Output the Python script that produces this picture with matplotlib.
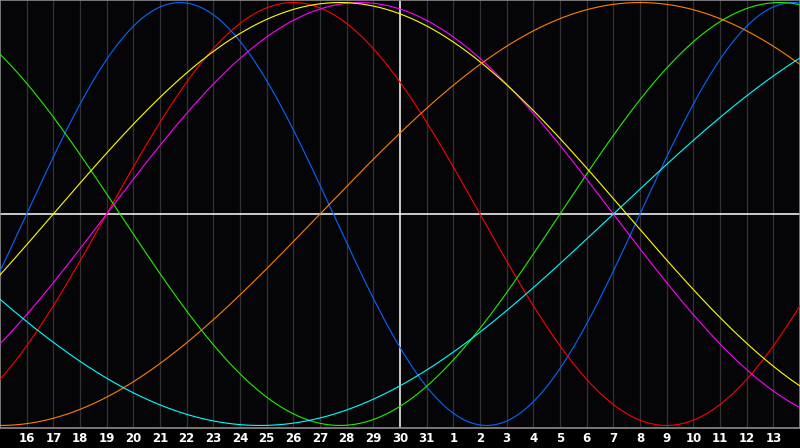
import numpy as np
import matplotlib
matplotlib.use("Agg")
import matplotlib.pyplot as plt

# Day labels under the grid lines (positions 1..29 days from left edge)
day_labels = ["16", "17", "18", "19", "20", "21", "22", "23", "24", "25", "26", "27", "28",
              "29", "30", "31", "1", "2", "3", "4", "5", "6", "7", "8", "9", "10", "11", "12", "13"]

# Biorhythm cycles: period (days) and days-since-birth modulo period at left edge
cycle_names = ["physical", "emotional", "intellectual", "intuitive", "aesthetic", "awareness", "spiritual"]
cycle_periods = [23, 28, 33, 38, 43, 48, 53]
cycle_phase0 = [22, 24, 12, 34, 41, 36, 30]
cycle_colors = ["#0a64ff", "#ff0000", "#22ee00", "#ff00ff", "#ffff00", "#ff8000", "#00ffff"]

span_days = 30
today_index = 15

fig = plt.figure(figsize=(8, 4.48), dpi=100, facecolor="#000000")
ax = fig.add_axes([0, 20 / 448, 1, 428 / 448])
ax.set_facecolor("#050508")

u = np.linspace(0, span_days, 1200)
for P, ph, c in zip(cycle_periods, cycle_phase0, cycle_colors):
    y = np.sin(2 * np.pi * (ph + u) / P)
    ax.plot(u, y, color=c, lw=0.8, antialiased=True, zorder=3)

for i in range(1, span_days):
    if i == today_index:
        continue
    ax.axvline(i, color="#333333", lw=0.9, zorder=1)
ax.axvline(today_index, color="#ffffff", lw=1.1, zorder=2)
ax.axhline(0, color="#ffffff", lw=1.1, zorder=2)

ax.set_xlim(0, span_days)
ax.set_ylim(-1.012, 1.012)
for s in ax.spines.values():
    s.set_color("#8c8c8c")
    s.set_linewidth(1.2)
ax.set_xticks([])
ax.set_yticks([])

for i, lab in enumerate(day_labels, start=1):
    fig.text(i / span_days, 10 / 448, lab, color="white", fontsize=8.5,
             fontweight="bold", ha="center", va="center", family="DejaVu Sans")

fig.savefig("out.png", dpi=100, facecolor=fig.get_facecolor())
